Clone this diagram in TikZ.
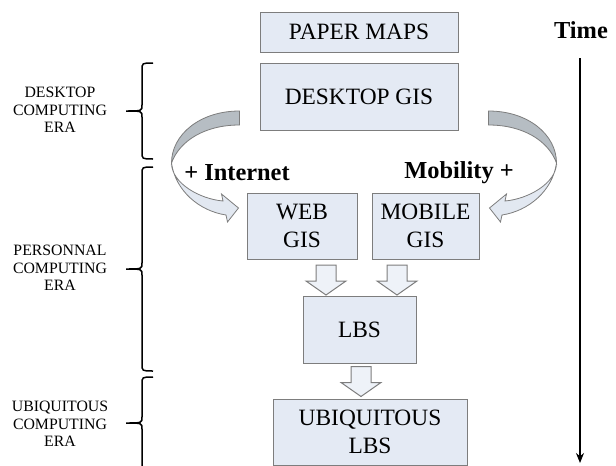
\documentclass[tikz,border=0pt]{standalone}
\usepackage{fontspec}
\setmainfont{Liberation Serif}
\usetikzlibrary{arrows.meta, positioning, calc}
\definecolor{boxfill}{RGB}{228,234,244}
\definecolor{boxline}{RGB}{125,125,125}
\definecolor{arrowfill}{RGB}{238,242,248}
\definecolor{bendback}{RGB}{182,189,195}
\definecolor{bendfront}{RGB}{226,232,241}

\tikzset{
  bendarrow/.pic={
    \draw[boxline, line width=0.4pt, fill=bendback] (0,0) .. controls (-40,0) and (-68,24) .. (-68,52)
        .. controls (-60,30) and (-35,14) .. (0,14) -- cycle;
    \draw[boxline, line width=0.4pt, fill=bendfront] (-68,52) .. controls (-68,72) and (-40,88) .. (-16.5,90)
        -- (-18,83) -- (-1,97) -- (-12,111) -- (-13.5,104) .. controls (-40,100) and (-64,80) .. (-68,52) -- cycle;
  },
  downblock/.pic={
    \draw[boxline, line width=0.5pt, fill=arrowfill] (-10,0) -- (10,0) -- (10,16) -- (20,16) -- (0,30)
        -- (-20,16) -- (-10,16) -- cycle;
  }
}

\begin{document}
\begin{tikzpicture}[x=0.5pt, y=-0.5pt,
    box/.style={rectangle, draw=boxline, fill=boxfill, line width=0.5pt, align=center,
                inner sep=0pt, font=\fontsize{11.7}{14}\selectfont},
    era/.style={align=center, font=\fontsize{7.9}{8.8}\selectfont},
    erabrace/.style={line width=0.75pt, to path={
        (\tikztostart) .. controls ($(\tikztostart)+(-11,0)$) .. ($(\tikztostart)+(-11,7)$)
        -- ($(\tikztostart)!.5!(\tikztotarget)+(-11,-6)$)
        .. controls ($(\tikztostart)!.5!(\tikztotarget)+(-11,0)$) .. ($(\tikztostart)!.5!(\tikztotarget)+(-27,0)$)
        .. controls ($(\tikztostart)!.5!(\tikztotarget)+(-11,0)$) .. ($(\tikztostart)!.5!(\tikztotarget)+(-11,6)$)
        -- ($(\tikztotarget)+(-11,-7)$)
        .. controls ($(\tikztotarget)+(-11,0)$) .. (\tikztotarget)}},
    gain/.style={font=\bfseries\fontsize{12.2}{14}\selectfont}]
    \path[use as bounding box] (0,0) rectangle (616,466);

    % Stages
    \node[box, minimum width=99pt, minimum height=20pt] (paper) at (359,32) {PAPER MAPS};
    \node[box, minimum width=99pt, minimum height=33.5pt] (desk) at (359,96.5) {DESKTOP GIS};
    \node[box, minimum width=55pt, minimum height=33pt] (web) at (302,226) {WEB\\GIS};
    \node[box, minimum width=53.5pt, minimum height=33pt] (mobile) at (425.5,226) {MOBILE\\GIS};
    \node[box, minimum width=56.5pt, minimum height=33.5pt] (lbs) at (359.5,329.5) {LBS};
    \node[box, minimum width=97pt, minimum height=33pt] (ubi) at (370,432) {UBIQUITOUS\\LBS};

    % Block arrows
    \pic at (326,265) {downblock};
    \pic at (397,265) {downblock};
    \pic at ($(lbs.south)+(1.5,3)$) {downblock};

    \pic at ($(desk.west)+(-20,14.5)$) {bendarrow};
    \pic[xscale=-1] at ($(desk.east)+(30,14.5)$) {bendarrow};
    \node[gain] (internet) at (237,173) {+ Internet};
    \node[gain] (mobility) at (459,173) {Mobility +};

    % Eras
    \node[era] (deskera) at (60,110) {DESKTOP\\COMPUTING\\ERA};
    \node[era] (persera) at (60,268) {PERSONNAL\\COMPUTING\\ERA};
    \node[era] (ubiera) at (60,424) {UBIQUITOUS\\COMPUTING\\ERA};
    \coordinate (deska) at (153,63);
    \coordinate (deskb) at (153,159);
    \coordinate (persa) at (153,167);
    \coordinate (persb) at (153,371);
    \coordinate (ubia) at (153,377);
    \coordinate (ubib) at (153,469);
    \draw[erabrace] (deska) to (deskb);
    \draw[erabrace] (persa) to (persb);
    \draw[erabrace] (ubia) to (ubib);

    % Time
    \node[gain] (time) at (581,30) {Time};
    \coordinate (tstart) at (580,58);
    \coordinate (tend) at (580,463);
    \draw[-{Stealth[length=5pt, width=4pt]}, line width=0.6pt] (tstart) -- (tend);
\end{tikzpicture}
\end{document}
